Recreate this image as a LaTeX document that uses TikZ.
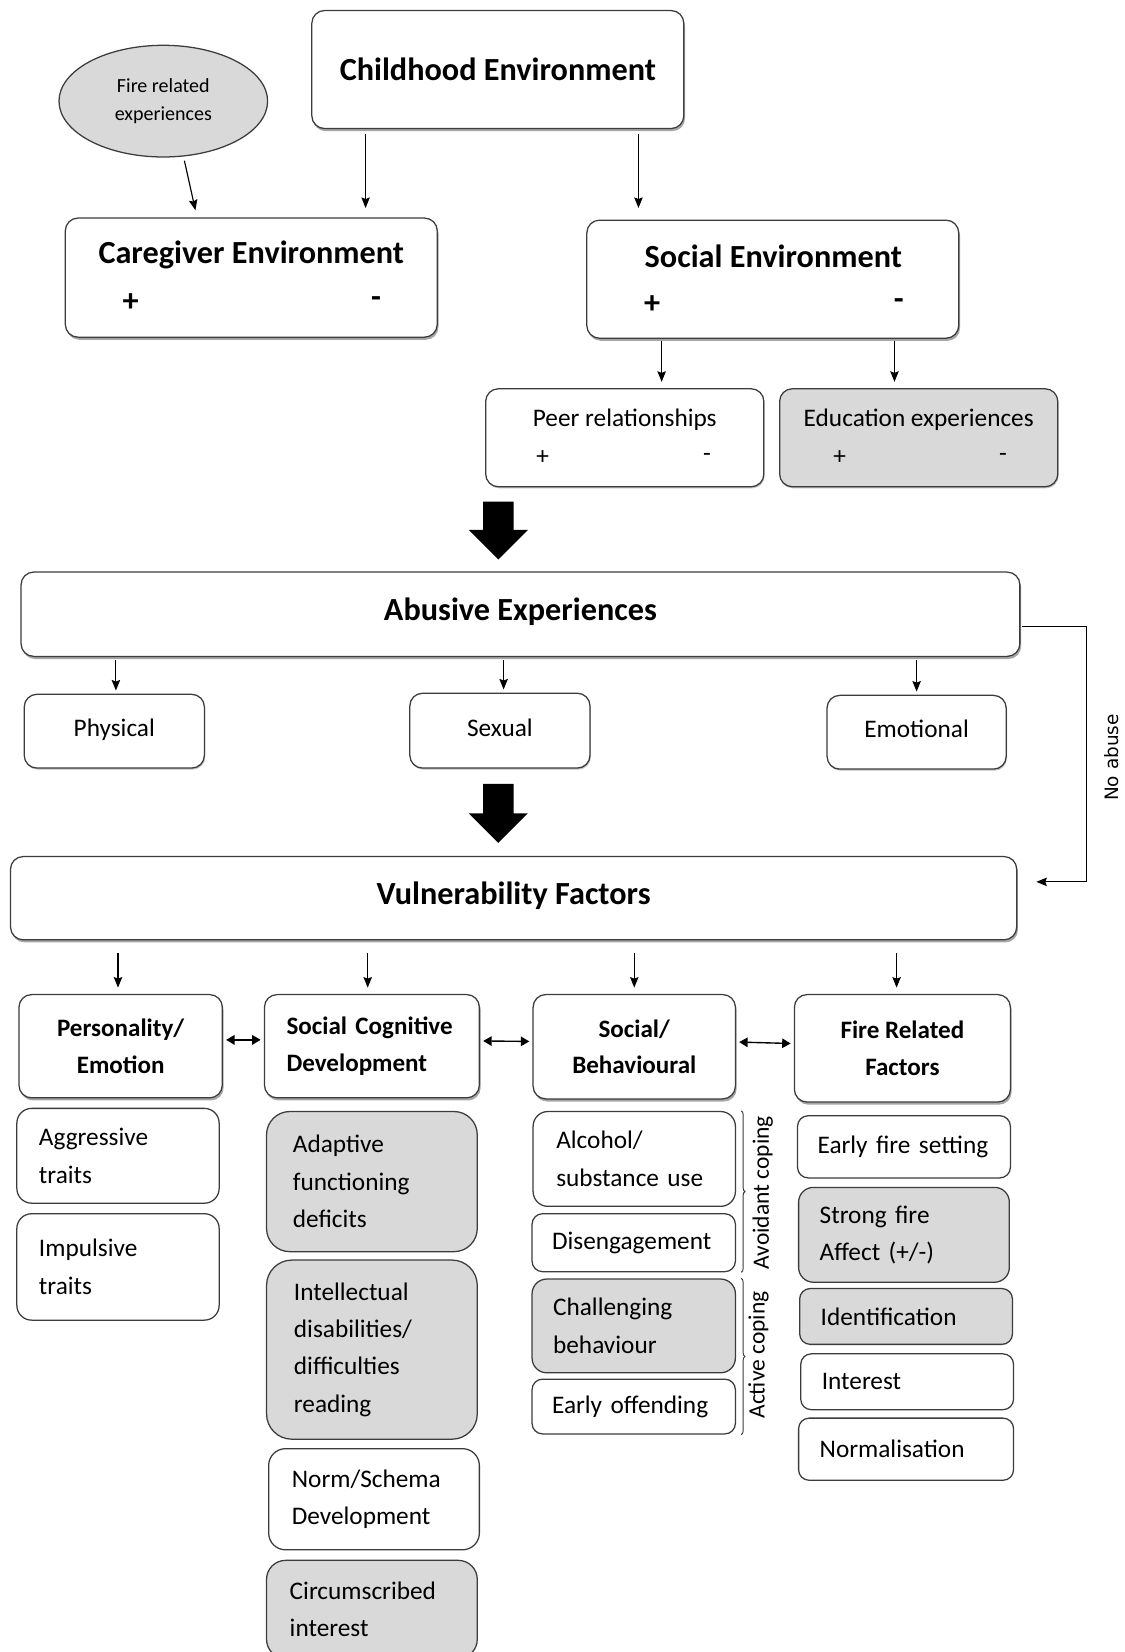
\documentclass[tikz,border=0pt]{standalone}
\usepackage{fontspec}
\setmainfont{Carlito}
\newfontfamily\labelfont{DejaVu Sans}
\usetikzlibrary{arrows.meta,shapes.geometric,shadows,calc,decorations.pathreplacing}

\definecolor{bordc}{HTML}{3C3C3C}
\definecolor{boxgray}{HTML}{D9D9D9}

\tikzset{
  box/.style={draw=bordc, line width=1.2pt, rounded corners=12pt, fill=white,
    inner sep=0pt, align=center},
  shadowed/.style={drop shadow={shadow xshift=1.2pt, shadow yshift=-2.5pt,
    fill=black, opacity=0.35}},
  lightshadow/.style={drop shadow={shadow xshift=0.8pt, shadow yshift=-1.5pt,
    fill=black, opacity=0.25}},
  greyfill/.style={fill=boxgray},
  bigtitle/.style={font=\fontsize{30.6}{36}\selectfont\bfseries},
  cattitle/.style={font=\fontsize{23.8}{35}\selectfont\bfseries},
  itemtext/.style={font=\fontsize{24}{35.5}\selectfont},
  subtext/.style={font=\fontsize{24}{28}\selectfont},
  copingtext/.style={font=\fontsize{22.3}{26}\selectfont},
  arr/.style={-{Stealth[length=10pt,width=8pt,inset=1.5pt]}, line width=1.1pt, black},
  darr/.style={{Triangle[length=8pt,width=9pt]}-{Triangle[length=8pt,width=9pt]},
    line width=1.3pt, black, shorten <=3pt, shorten >=3pt},
  bracket/.style={decorate, decoration={brace, amplitude=3.5pt}, line width=0.9pt, bordc},
}

\begin{document}
\begin{tikzpicture}[x=1pt, y=-1pt]
\useasboundingbox (0,0) rectangle (1067,1568);

% ---------- childhood environment ----------
\node[ellipse, draw=bordc, line width=1.2pt, fill=boxgray, minimum width=198pt,
  minimum height=106pt, inner sep=0pt, align=center,
  font=\fontsize{19}{26}\selectfont] (fire) at (155,96) {Fire related\\experiences};

\node[box, shadowed, minimum width=353pt, minimum height=112pt, bigtitle]
  (child) at (472.5,66) {Childhood Environment};

\node[box, shadowed, minimum width=353pt, minimum height=113pt] (care) at (238.5,263.5) {};
\node[bigtitle, inner sep=0pt] (careT) at (238.5,242) {Caregiver Environment};
\node[bigtitle, inner sep=0pt] (careP) at (124,287) {+};
\node[bigtitle, inner sep=0pt] (careM) at (357,287) {-};

\node[box, shadowed, minimum width=353pt, minimum height=112pt] (social) at (733.5,265) {};
\node[bigtitle, inner sep=0pt] (socialT) at (734,243) {Social Environment};
\node[bigtitle, inner sep=0pt] (socialP) at (619,289) {+};
\node[bigtitle, inner sep=0pt] (socialM) at (853,289) {-};

\node[box, lightshadow, minimum width=264pt, minimum height=93pt] (peer) at (593,415.5) {};
\node[subtext, inner sep=0pt] (peerT) at (593,398) {Peer relationships};
\node[subtext, inner sep=0pt] (peerP) at (515,434) {+};
\node[subtext, inner sep=0pt] (peerM) at (671,434) {-};

\node[box, lightshadow, greyfill, minimum width=264pt, minimum height=93pt] (edu) at (872,415.5) {};
\node[subtext, inner sep=0pt] (eduT) at (872,398) {Education experiences};
\node[subtext, inner sep=0pt] (eduP) at (797,434) {+};
\node[subtext, inner sep=0pt] (eduM) at (952,434) {-};

% arrows of the upper part
\coordinate (xa) at (187,0);
\coordinate (xb) at (347,0);
\coordinate (xc) at (606,0);
\coordinate (xd) at (628,0);
\coordinate (xe) at (849,0);
\draw[arr, shorten <=4pt, shorten >=7pt] (fire.-70) -- (care.north -| xa);
\draw[arr, shorten <=5pt, shorten >=9pt] (child.south -| xb) -- (care.north -| xb);
\draw[arr, shorten <=5pt, shorten >=11pt] (child.south -| xc) -- (social.north -| xc);
\draw[arr, shorten <=2pt, shorten >=6pt] (social.south -| xd) -- (peer.north -| xd);
\draw[arr, shorten <=2pt, shorten >=6pt] (social.south -| xe) -- (edu.north -| xe);

% ---------- block arrow to abuse ----------
\coordinate (ba) at (473,476);
\fill[black] ($(ba)+(-14.5,0)$) -- ($(ba)+(14.5,0)$) -- ($(ba)+(14.5,27)$) -- ($(ba)+(28,27)$)
  -- ($(ba)+(0,55)$) -- ($(ba)+(-28,27)$) -- ($(ba)+(-14.5,27)$) -- cycle;

% ---------- abusive experiences ----------
\node[box, shadowed, minimum width=948pt, minimum height=80pt, bigtitle]
  (abuse) at (494,583) {\raisebox{9pt}{Abusive Experiences}};

\node[box, lightshadow, minimum width=171pt, minimum height=70pt, subtext]
  (phys) at (108.5,694) {\raisebox{6pt}{Physical}};
\node[box, lightshadow, minimum width=171pt, minimum height=71pt, subtext]
  (sex) at (474.5,693.5) {\raisebox{6pt}{Sexual}};
\node[box, lightshadow, minimum width=170pt, minimum height=70pt, subtext]
  (emo) at (870,695) {\raisebox{7pt}{Emotional}};

\coordinate (xf) at (110,0);
\coordinate (xg) at (478,0);
\coordinate (xh) at (870,0);
\draw[arr, shorten <=3pt, shorten >=3pt] (abuse.south -| xf) -- (phys.north -| xf);
\draw[arr, shorten <=3pt, shorten >=3pt] (abuse.south -| xg) -- (sex.north -| xg);
\draw[arr, shorten <=3pt, shorten >=3pt] (abuse.south -| xh) -- (emo.north -| xh);

% ---------- block arrow to vulnerability ----------
\coordinate (bb) at (473,744);
\fill[black] ($(bb)+(-14.5,0)$) -- ($(bb)+(14.5,0)$) -- ($(bb)+(14.5,28)$) -- ($(bb)+(28,28)$)
  -- ($(bb)+(0,56)$) -- ($(bb)+(-28,28)$) -- ($(bb)+(-14.5,28)$) -- cycle;

% ---------- vulnerability factors ----------
\node[box, shadowed, minimum width=955pt, minimum height=79pt, bigtitle]
  (vuln) at (487.5,852.5) {\raisebox{9pt}{Vulnerability Factors}};

% no abuse route
\coordinate (naTop) at (1031,595);
\coordinate (naBot) at (1031,837);
\draw[arr, shorten <=1pt, shorten >=18pt] (abuse.east |- naTop) -- (naTop) -- (naBot) -- (vuln.east |- naBot);
\node[rotate=90, inner sep=0pt, font=\labelfont\fontsize{17.5}{20}\selectfont] (noabuse) at (1055,719) {No abuse};

% ---------- category boxes ----------
\node[box, shadowed, minimum width=193pt, minimum height=98pt, cattitle]
  (pers) at (114.5,993) {Personality/\\Emotion};
\node[box, shadowed, minimum width=204pt, minimum height=98pt, cattitle, align=left,
  text width=162pt, inner xsep=21pt] (scd) at (353,993) {Social Cognitive\\Development};
\node[box, shadowed, minimum width=192pt, minimum height=99pt, cattitle]
  (socb) at (602,993.5) {Social/\\Behavioural};
\node[box, shadowed, minimum width=205pt, minimum height=102pt, cattitle]
  (frf) at (856.5,995) {Fire Related\\Factors};

\coordinate (xi) at (112,0);
\coordinate (xj) at (349,0);
\coordinate (xk) at (602,0);
\coordinate (xl) at (851,0);
\draw[arr, shorten <=12pt, shorten >=6pt] (vuln.south -| xi) -- (pers.north -| xi);
\draw[arr, shorten <=12pt, shorten >=6pt] (vuln.south -| xj) -- (scd.north -| xj);
\draw[arr, shorten <=12pt, shorten >=6pt] (vuln.south -| xk) -- (socb.north -| xk);
\draw[arr, shorten <=12pt, shorten >=6pt] (vuln.south -| xl) -- (frf.north -| xl);

\draw[darr] ([yshift=6pt]pers.east) -- ([yshift=6pt]scd.west);
\draw[darr] ([yshift=5pt]scd.east) -- ([yshift=5pt]socb.west);
\draw[darr] ([yshift=4.5pt]socb.east) -- ([yshift=4.5pt]frf.west);

% ---------- personality / emotion items ----------
\node[box, itemtext, align=left, rounded corners=14pt, inner xsep=21pt, text width=150pt,
  minimum height=90pt] (aggr) at (112,1097) {Aggressive\\traits};
\node[box, itemtext, align=left, rounded corners=14pt, inner xsep=21pt, text width=150pt,
  minimum height=101pt] (impu) at (112,1202.5) {Impulsive\\traits};

% ---------- social cognitive items ----------
\node[box, greyfill, itemtext, align=left, rounded corners=22pt, inner xsep=25pt, text width=150pt,
  minimum height=133pt] (adap) at (353,1121.5) {Adaptive\\functioning\\deficits};
\node[box, greyfill, itemtext, align=left, rounded corners=24pt, inner xsep=26pt, text width=148pt,
  minimum height=170pt] (intel) at (353,1281) {Intellectual\\disabilities/\\difficulties\\reading};
\node[box, itemtext, align=left, rounded corners=16pt, inner xsep=22pt, text width=156pt,
  minimum height=96pt] (norm) at (355,1423) {Norm/Schema\\Development};
\node[box, greyfill, itemtext, align=left, rounded corners=18pt, inner xsep=22pt, text width=156pt,
  minimum height=93pt] (circ) at (353,1527.5) {Circumscribed\\interest};

% ---------- social / behavioural items ----------
\node[box, itemtext, align=left, rounded corners=14pt, inner xsep=22pt, text width=148pt,
  minimum height=90pt] (alco) at (602,1100) {Alcohol/\\substance use};
\node[box, itemtext, align=left, rounded corners=10pt, inner xsep=19pt, text width=155pt,
  minimum height=55pt] (dise) at (601.5,1179.5) {Disengagement};
\node[box, greyfill, itemtext, align=left, rounded corners=14pt, inner xsep=20pt, text width=153pt,
  minimum height=89pt] (chal) at (601.5,1258.5) {Challenging\\behaviour};
\node[box, itemtext, align=left, rounded corners=10pt, inner xsep=19pt, text width=155pt,
  minimum height=52pt] (offe) at (601.5,1335) {Early offending};

\draw[bracket] ([xshift=5pt]alco.north east) -- ([xshift=5pt]dise.south east);
\draw[bracket] ([xshift=5pt]chal.north east) -- ([xshift=5pt]offe.south east);
\node[rotate=90, inner sep=0pt, copingtext] (avoid) at (724,1132) {Avoidant coping};
\node[rotate=90, inner sep=0pt, copingtext] (active) at (720,1286) {Active coping};

% ---------- fire related items ----------
\node[box, itemtext, align=left, rounded corners=10pt, inner xsep=19pt, text width=164pt,
  minimum height=59pt] (efs) at (858,1088.5) {Early fire setting};
\node[box, greyfill, itemtext, align=left, rounded corners=14pt, inner xsep=20pt, text width=160pt,
  minimum height=90pt] (strong) at (858,1172) {Strong fire\\Affect (+/-)};
\node[box, greyfill, itemtext, align=left, rounded corners=10pt, inner xsep=20pt, text width=162pt,
  minimum height=53pt] (ident) at (860,1249.5) {Identification};
\node[box, itemtext, align=left, rounded corners=10pt, inner xsep=20pt, text width=162pt,
  minimum height=53pt] (inter) at (861,1311.5) {Interest};
\node[box, itemtext, align=left, rounded corners=10pt, inner xsep=20pt, text width=164pt,
  minimum height=59pt] (normal) at (860,1375.5) {Normalisation};

\end{tikzpicture}
\end{document}
